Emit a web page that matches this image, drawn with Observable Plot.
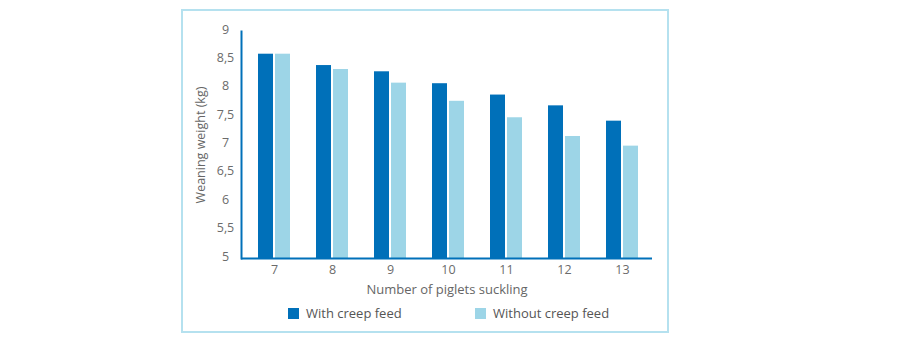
<!DOCTYPE html>
<html>
<head>
<meta charset="utf-8">
<script src="https://cdn.jsdelivr.net/npm/d3@7"></script>
<script src="https://cdn.jsdelivr.net/npm/@observablehq/plot@0.6"></script>
<style>
  html, body { margin: 0; padding: 0; background: #fff; }
  #wrap { position: relative; width: 900px; height: 337px; overflow: hidden; font-family: "Open Sans", sans-serif; }
  #frame { position: absolute; left: 181px; top: 9px; width: 484px; height: 320px; border: 2px solid #b5e1ef; box-sizing: content-box; }
  #chart { position: absolute; left: 0; top: 0; }
  #legend { position: absolute; left: 0; top: 303px; width: 900px; height: 20px; font-size: 13px; color: #555; }
  .item { position: absolute; top: 0; display: flex; align-items: center; height: 20px; }
  .sw { width: 11px; height: 11px; margin-right: 7px; }
</style>
</head>
<body>
<div id="wrap">
  <div id="frame"></div>
  <div id="chart"></div>
  <div id="legend"></div>
</div>
<script>
const categories = ["7", "8", "9", "10", "11", "12", "13"];
const seriesNames = ["With creep feed", "Without creep feed"];
const withCreep = [8.6, 8.4, 8.29, 8.08, 7.88, 7.69, 7.42];
const withoutCreep = [8.6, 8.33, 8.09, 7.77, 7.48, 7.15, 6.98];
const yTicks = [5, 5.5, 6, 6.5, 7, 7.5, 8, 8.5, 9];
const colors = ["#0070b9", "#9dd5e7"];

const rowsWith = categories.map((c, i) => ({cat: c, series: seriesNames[0], value: withCreep[i]}));
const rowsWithout = categories.map((c, i) => ({cat: c, series: seriesNames[1], value: withoutCreep[i]}));

const plot = Plot.plot({
  width: 900,
  height: 300,
  marginLeft: 241,
  marginRight: 248,
  marginTop: 31,
  marginBottom: 42,
  style: {fontFamily: "'Open Sans', sans-serif", fontSize: "12.5px", color: "#6b6b6b", background: "transparent"},
  x: {type: "band", domain: categories, insetLeft: 3, paddingInner: 0.4545, paddingOuter: 0.2045, label: null},
  y: {domain: [5, 9], label: null},
  marks: [
    Plot.barY(rowsWith, {x: "cat", y1: 5, y2: "value", fill: colors[0], insetRight: 17}),
    Plot.barY(rowsWithout, {x: "cat", y1: 5, y2: "value", fill: colors[1], insetLeft: 17}),
    Plot.axisY({ticks: yTicks, tickSize: 0, tickPadding: 16, textAnchor: "middle", dy: -2,
      tickFormat: d => String(d).replace(".", ","), label: null}),
    Plot.axisX({tickSize: 0, tickPadding: 7, label: null, fontSize: 12.5}),
    Plot.text(["Weaning weight (kg)"], {frameAnchor: "left", textAnchor: "middle", rotate: -90, dx: -41, fontSize: 12.5, fill: "#666"}),
    Plot.text(["Number of piglets suckling"], {frameAnchor: "bottom", dy: 35, fontSize: 13, fill: "#666"}),
    Plot.frame({anchor: "left", stroke: colors[0], strokeWidth: 2}),
    Plot.ruleY([5], {stroke: colors[0], strokeWidth: 2})
  ]
});
document.getElementById("chart").appendChild(plot);

const legend = document.getElementById("legend");
const lefts = [288, 475];
seriesNames.forEach((name, i) => {
  const it = document.createElement("div");
  it.className = "item";
  it.style.left = lefts[i] + "px";
  const sw = document.createElement("span");
  sw.className = "sw";
  sw.style.background = colors[i];
  const tx = document.createElement("span");
  tx.textContent = name;
  it.appendChild(sw);
  it.appendChild(tx);
  legend.appendChild(it);
});
</script>
</body>
</html>
